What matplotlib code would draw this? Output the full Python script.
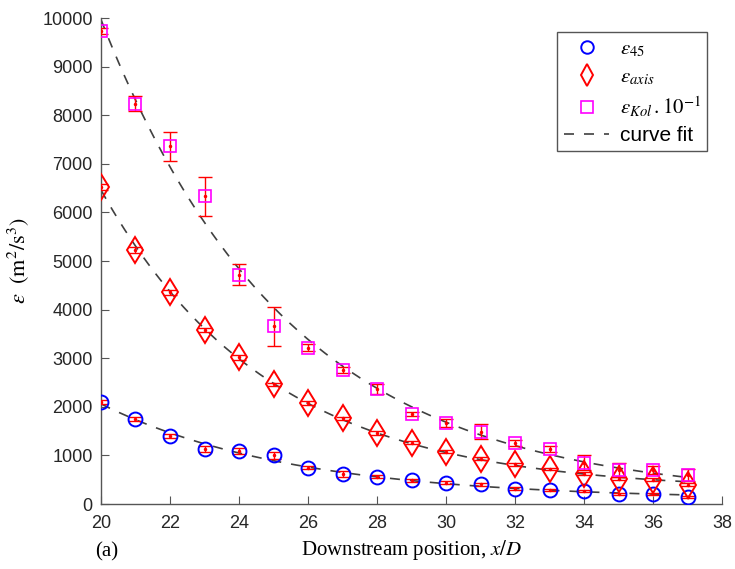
import numpy as np
import matplotlib
matplotlib.use('Agg')
import matplotlib.pyplot as plt

plt.rcParams['mathtext.fontset'] = 'stix'

x_pos = np.arange(20, 38)

eps_45 = [2100, 1750, 1400, 1130, 1090, 1000, 750, 610, 560, 490, 440, 410, 310, 290, 270, 200, 200, 150]
err_45 = [40, 40, 40, 60, 60, 80, 30, 60, 30, 30, 30, 30, 30, 20, 20, 20, 20, 20]

eps_axis = [6530, 5230, 4360, 3580, 3020, 2460, 2070, 1760, 1460, 1260, 1080, 930, 820, 720, 620, 520, 500, 400]
err_axis = [60, 60, 50, 50, 50, 40, 40, 40, 40, 30, 30, 30, 30, 30, 30, 30, 30, 30]

eps_kol = [9730, 8240, 7360, 6330, 4720, 3660, 3220, 2760, 2360, 1850, 1660, 1490, 1260, 1140, 850, 700, 700, 600]
err_kol = [60, 150, 300, 400, 220, 400, 80, 60, 100, 40, 80, 150, 60, 60, 150, 150, 80, 120]

xticks = np.arange(20, 39, 2)
yticks = np.arange(0, 10001, 1000)


def exp_fit(x, y, x_new):
    # y = a*exp(-b*(x-20)) + c, b by grid search, a and c by least squares
    x = np.asarray(x, float)
    y = np.asarray(y, float)
    best = None
    for b in np.linspace(0.02, 0.6, 600):
        A = np.column_stack([np.exp(-b * (x - 20)), np.ones_like(x)])
        coef, res, _, _ = np.linalg.lstsq(A, y, rcond=None)
        r = np.sum((A @ coef - y) ** 2)
        if best is None or r < best[0]:
            best = (r, b, coef)
    _, b, (a, c) = best
    return a * np.exp(-b * (x_new - 20)) + c


fig = plt.figure(figsize=(7.35, 5.69), dpi=100)
ax = fig.add_axes([0.1374, 0.1142, 0.845, 0.854])

x_fit = np.linspace(20, 37, 200)
for vals in (eps_45, eps_axis, eps_kol):
    ax.plot(x_fit, exp_fit(x_pos, vals, x_fit), color='#404040', ls=(0, (6, 6)), lw=1.2, zorder=2)

for vals, errs in ((eps_45, err_45), (eps_axis, err_axis), (eps_kol, err_kol)):
    ax.errorbar(x_pos, vals, yerr=errs, fmt='.', color='red', ms=3, lw=1, capsize=5, zorder=3)

ax.plot(x_pos, eps_45, 'o', mfc='none', mec='blue', ms=10, mew=1.4, zorder=4)
ax.plot(x_pos, eps_axis, 'd', mfc='none', mec='red', ms=13, mew=1.4, zorder=4)
ax.plot(x_pos, eps_kol, 's', mfc='none', mec='magenta', ms=9, mew=1.2, zorder=4)

h1 = plt.Line2D([], [], ls='none', marker='o', mfc='none', mec='blue', ms=9, mew=1.4)
h2 = plt.Line2D([], [], ls='none', marker='d', mfc='none', mec='red', ms=11, mew=1.4)
h3 = plt.Line2D([], [], ls='none', marker='s', mfc='none', mec='magenta', ms=8, mew=1.2)
h4 = plt.Line2D([], [], color='#404040', ls=(0, (6, 6)), lw=1.2)
leg = ax.legend([h1, h2, h3, h4],
                [r'$\varepsilon_{45}$', r'$\varepsilon_{axis}$', r'$\varepsilon_{Kol}\,.10^{-1}$', 'curve fit'],
                loc='upper right', bbox_to_anchor=(0.976, 0.971), fancybox=False, framealpha=1,
                edgecolor='#555555', fontsize=15, handlelength=2.2, borderpad=0.3,
                labelspacing=0.35, handletextpad=0.5, borderaxespad=0)
leg.get_frame().set_linewidth(1.0)
leg.get_texts()[3].set_family('Liberation Sans')

ax.set_xlim(20, 38)
ax.set_ylim(0, 10000)
ax.set_xticks(xticks)
ax.set_yticks(yticks)
ax.tick_params(direction='in', labelsize=13, labelcolor='#262626', color='#555555', length=6)
ax.tick_params(axis='x', pad=8)
ax.tick_params(axis='y', pad=6)
for s in ('top', 'right'):
    ax.spines[s].set_visible(False)
for s in ('left', 'bottom'):
    ax.spines[s].set_color('#555555')
    ax.spines[s].set_linewidth(1.0)
for lab in ax.get_xticklabels() + ax.get_yticklabels():
    lab.set_family('Liberation Sans')

ax.set_xlabel(r'Downstream position, $x/D$', family='Liberation Serif', fontsize=15, labelpad=4)
ax.set_ylabel(r'$\varepsilon\ \ (\mathrm{m}^2/\mathrm{s}^3)$', fontsize=16, labelpad=8)
fig.text(0.13, 0.022, '(a)', family='Liberation Serif', fontsize=15)

fig.savefig('out.png', dpi=100)
